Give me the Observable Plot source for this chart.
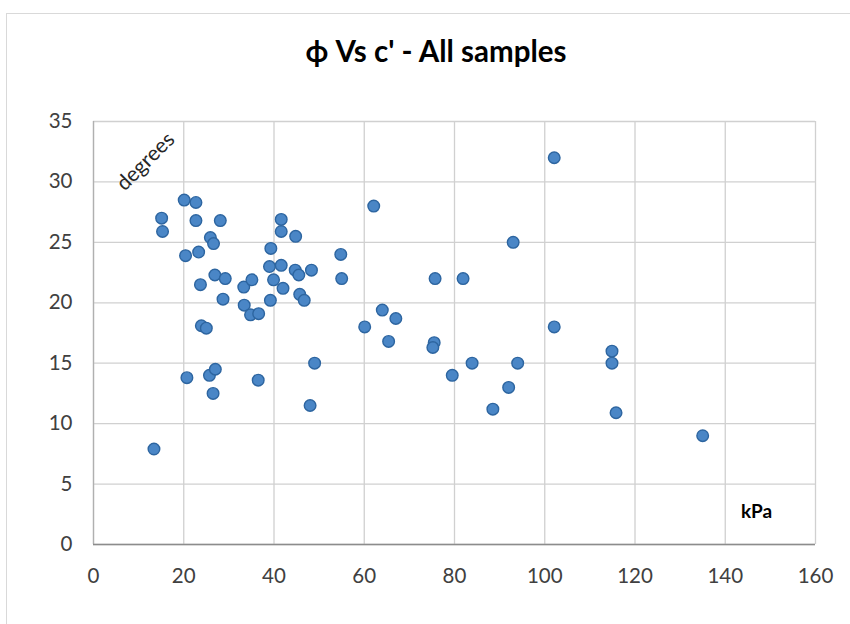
<!DOCTYPE html>
<html>
<head>
<meta charset="utf-8">
<script src="https://cdn.jsdelivr.net/npm/d3@7"></script>
<script src="https://cdn.jsdelivr.net/npm/@observablehq/plot@0.6"></script>
<style>
  html, body { margin: 0; padding: 0; background: #fff; overflow: hidden; }
  #wrap { position: relative; width: 850px; height: 624px; font-family: Lato, "Open Sans", sans-serif; }
  #frame { position: absolute; left: 6px; top: 13px; width: 900px; height: 700px; border: 1px solid #d9d9d9; box-sizing: border-box; }
  #title { position: relative; height: 100px; line-height: 102px; text-align: center; padding-left: 22px; box-sizing: border-box; font-size: 29.5px; font-weight: bold; color: #000; }
  #chart { position: relative; }
</style>
</head>
<body>
<div id="wrap">
  <div id="frame"></div>
  <div id="title">ϕ Vs c' - All samples</div>
  <div id="chart"></div>
</div>
<script>
// c' (kPa)
const cValues = [13.4, 15.1, 15.3, 20.1, 20.4, 20.7, 22.7, 22.7, 23.3, 23.7,
  23.9, 25.0, 25.7, 27.0, 26.5, 25.9, 26.6, 26.9, 28.1, 29.2,
  28.7, 33.3, 35.1, 33.4, 34.8, 36.6, 36.5, 39.0, 39.3, 39.2,
  39.9, 42.0, 41.6, 41.6, 41.6, 44.8, 44.7, 45.5, 45.7, 46.7,
  48.3, 49.0, 48.0, 54.8, 55.0, 60.1, 62.1, 64.0, 65.4, 67.0,
  75.5, 75.2, 75.7, 79.5, 81.9, 83.9, 88.5, 92.0, 93.0, 94.0,
  102.1, 102.1, 114.9, 114.9, 115.8, 135.0];
// phi (degrees)
const phiValues = [7.9, 27.0, 25.9, 28.5, 23.9, 13.8, 28.3, 26.8, 24.2, 21.5,
  18.1, 17.9, 14.0, 14.5, 12.5, 25.4, 24.9, 22.3, 26.8, 22.0,
  20.3, 21.3, 21.9, 19.8, 19.0, 19.1, 13.6, 23.0, 24.5, 20.2,
  21.9, 21.2, 23.1, 26.9, 25.9, 25.5, 22.7, 22.3, 20.7, 20.2,
  22.7, 15.0, 11.5, 24.0, 22.0, 18.0, 28.0, 19.4, 16.8, 18.7,
  16.7, 16.3, 22.0, 14.0, 22.0, 15.0, 11.2, 13.0, 25.0, 15.0,
  32.0, 18.0, 16.0, 15.0, 10.9, 9.0];
const xTicks = [0, 20, 40, 60, 80, 100, 120, 140, 160];
const yTicks = [0, 5, 10, 15, 20, 25, 30, 35];

const data = cValues.map((c, i) => ({c, phi: phiValues[i]}));

const chart = Plot.plot({
  width: 850,
  height: 524,
  marginLeft: 93,
  marginRight: 35,
  marginTop: 21,
  marginBottom: 80,
  style: {fontFamily: "Lato, 'Open Sans', sans-serif", fontSize: "20.5px", color: "#404040", background: "transparent"},
  x: {domain: [0, 160], ticks: xTicks},
  y: {domain: [0, 35], ticks: yTicks},
  marks: [
    Plot.gridX(xTicks, {stroke: "#d0d0d0", strokeOpacity: 1, strokeWidth: 1.3}),
    Plot.gridY(yTicks, {stroke: "#d0d0d0", strokeOpacity: 1, strokeWidth: 1.3}),
    Plot.ruleX([0], {stroke: "#b0b0b0", strokeWidth: 1.3}),
    Plot.ruleY([0], {stroke: "#8c8c8c", strokeWidth: 1.3}),
    Plot.axisX({ticks: xTicks, tickSize: 0, tickPadding: 24, label: null, fill: "#404040", fontSize: 20.5}),
    Plot.axisY({ticks: yTicks, tickSize: 0, tickPadding: 21, label: null, fill: "#404040", fontSize: 20.5}),
    Plot.dot(data, {x: "c", y: "phi", r: 5.8, fill: "#4a86c6", stroke: "#2d65a0", strokeWidth: 1.4}),
    Plot.text(["degrees"], {frameAnchor: "top-left", dx: 52, dy: 40, rotate: -45, textAnchor: "middle", lineAnchor: "middle", fontSize: 21, fill: "#262626"}),
    Plot.text(["kPa"], {frameAnchor: "bottom-right", dx: -59, dy: -33, textAnchor: "middle", lineAnchor: "middle", fontSize: 19, fontWeight: "bold", fill: "#000"})
  ]
});
document.getElementById("chart").appendChild(chart);
</script>
</body>
</html>
